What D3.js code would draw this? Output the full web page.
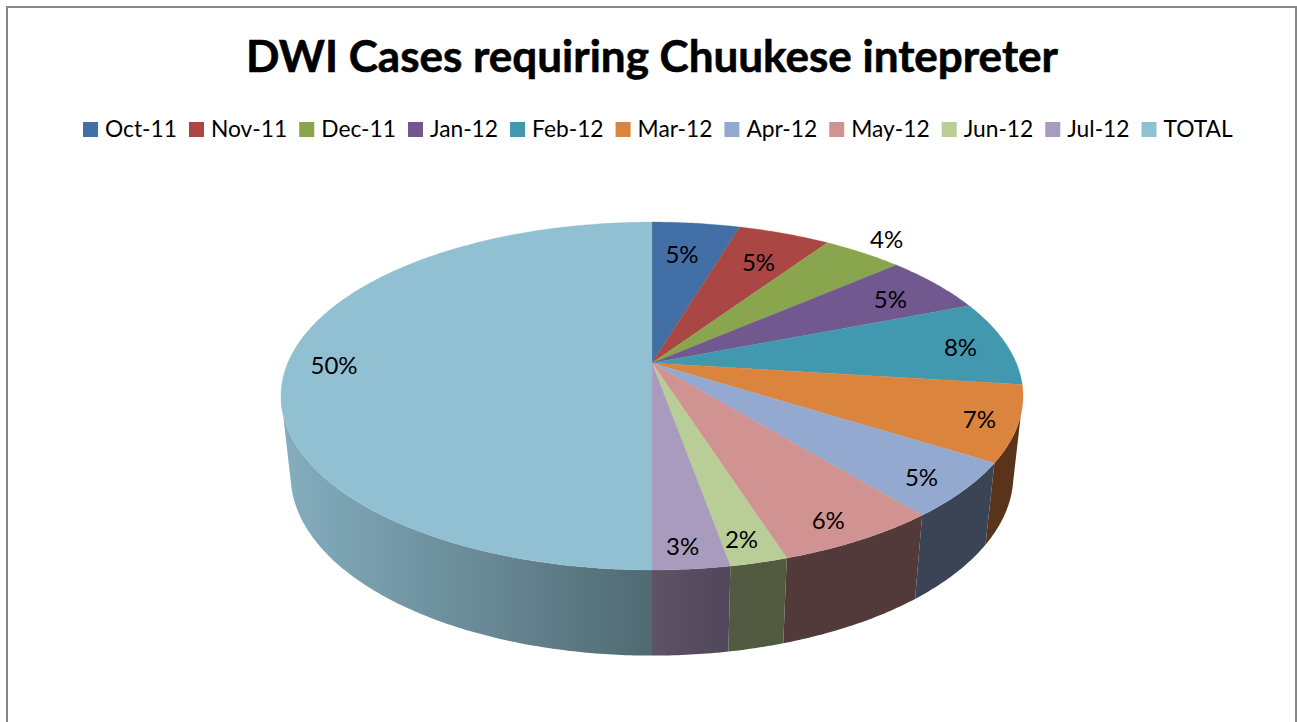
<!DOCTYPE html>
<html><head><meta charset="utf-8">
<script src="https://cdnjs.cloudflare.com/ajax/libs/d3/7.8.5/d3.min.js"></script>
<style>html,body{margin:0;padding:0;background:#fff}svg{display:block}text{font-family:Lato,sans-serif;fill:#000}</style>
</head><body><svg id="c" width="1297" height="722"></svg>
<script>
const titleText = "DWI Cases requiring Chuukese intepreter";
const categories = ["Oct-11","Nov-11","Dec-11","Jan-12","Feb-12","Mar-12","Apr-12","May-12","Jun-12","Jul-12","TOTAL"];
const values = [4.6,4.8,4.2,5.45,7.95,7,5.1,6,2.1,2.8,50];
const topColors = ["#426fa5","#aa4643","#89a54e","#71588f","#4198af","#db843d","#93a9cf","#d19392","#b9cd96","#a99bbd","#92c0d3"];
const wallLeft  = ["#2a4363","#662a28","#526330","#443556","#275b69","#59341a","#3b4454","#533a3a","#525a41","#5f5265","#85aebf"];
const wallRight = ["#2a4363","#662a28","#526330","#443556","#275b69","#59341a","#3b4454","#533a3a","#505a3f","#50475a","#506a72"];
const labelRadius = [.763,.77,1.17,.82,.865,.90,.894,.894,.895,.898,.87];
const labelNudge = [-5,1,-7,2,2,0,-5,-6,-4,-4,-1];

const svg = d3.select("#c");
const defs = svg.append("defs");
const cx = 652, cy = 363;
const k = 0.1897, a = 364.3, b = 167.7;
// perspective projection of the unit disc
const px = (u,v) => cx + a*u/(1-k*v);
const py = (u,v) => cy + b*v/(1-k*v);
const wallX = .974, wallY = 1.037, wallBase = 441;
const lowX = x => cx + (x-cx)*wallX;
const lowY = y => wallBase + (y-cy)*wallY;

svg.append("path").attr("d",`M7,722V7H1296V722`).attr("fill","none").attr("stroke","#868686").attr("stroke-width",2);

svg.append("text").attr("x",652).attr("y",72).attr("text-anchor","middle")
  .style("font-size","44px").style("font-weight",700)
  .style("stroke","#000").style("stroke-width",.6)
  .attr("textLength",812).attr("lengthAdjust","spacingAndGlyphs").text(titleText);

// legend (flow layout)
const squeeze = 0.99, swatch = 15, swGap = 7, itemGap = 12;
let lx = 83;
categories.forEach((c,i)=>{
  svg.append("rect").attr("x",lx).attr("y",122).attr("width",swatch).attr("height",swatch).attr("fill",topColors[i]);
  const t = svg.append("text").attr("x",lx+swatch+swGap).attr("y",137).style("font-size","23px").text(c);
  const w = t.node().getComputedTextLength()*squeeze;
  t.attr("textLength",w).attr("lengthAdjust","spacingAndGlyphs");
  lx += swatch+swGap+w+itemGap;
});

const pie = d3.pie().sort(null).value(d=>d)(values);
const total = d3.sum(values);
const pct = d3.format(".0%");
const line = d3.line();
const pts = (a0,a1) => {
  const n = Math.max(2,Math.ceil((a1-a0)/0.01));
  return d3.range(n+1).map(i=>{const t=a0+(a1-a0)*i/n;const u=Math.sin(t),v=-Math.cos(t);return [px(u,v),py(u,v)];});
};
const rad = Math.PI/180;
const topRange=[107*rad,259*rad], lowRange=[103*rad,255*rad];

// walls
pie.forEach((d,i)=>{
  const s1 = Math.max(d.startAngle,topRange[0]), e1 = Math.min(d.endAngle,topRange[1]);
  const s2 = Math.max(d.startAngle,lowRange[0]), e2 = Math.min(d.endAngle,lowRange[1]);
  if (e1<=s1 || e2<=s2) return;
  const top = pts(s1,e1);
  const low = pts(s2,e2).map(p=>[lowX(p[0]),lowY(p[1])]).reverse();
  const xs = top.map(p=>p[0]).concat(low.map(p=>p[0]));
  const id = "w"+i;
  const g = defs.append("linearGradient").attr("id",id).attr("gradientUnits","userSpaceOnUse")
    .attr("x1",d3.min(xs)).attr("x2",d3.max(xs)).attr("y1",0).attr("y2",0);
  g.append("stop").attr("offset",0).attr("stop-color",wallLeft[i]);
  g.append("stop").attr("offset",1).attr("stop-color",wallRight[i]);
  svg.append("path").attr("d",line(top.concat(low))+"Z").attr("fill",`url(#${id})`);
});
// top face
pie.forEach((d,i)=>{
  const p = [[px(0,0),py(0,0)]].concat(pts(d.startAngle,d.endAngle));
  svg.append("path").attr("d",line(p)+"Z").attr("fill",topColors[i]).attr("stroke",topColors[i]).attr("stroke-width",.3);
});
// labels
pie.forEach((d,i)=>{
  const m=(d.startAngle+d.endAngle)/2, r=labelRadius[i], u=r*Math.sin(m), v=-r*Math.cos(m);
  svg.append("text").attr("x",px(u,v)+labelNudge[i]).attr("y",py(u,v)+11).attr("text-anchor","middle")
    .style("font-size","24px").text(pct(d.value/total));
});
</script></body></html>
